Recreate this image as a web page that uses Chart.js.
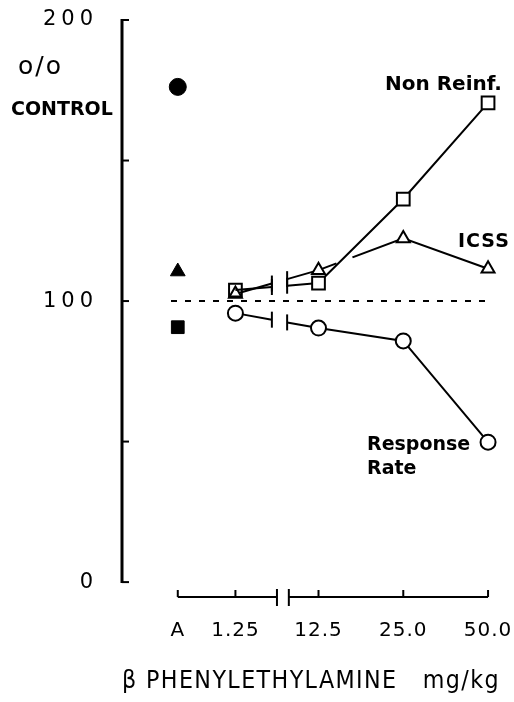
<!DOCTYPE html>
<html><head><meta charset="utf-8">
<script src="https://cdn.jsdelivr.net/npm/chart.js@4.4.0/dist/chart.umd.min.js"></script>
<style>html,body{margin:0;padding:0;background:#fff;}canvas{display:block}</style>
</head><body>
<canvas id="c" width="514" height="702"></canvas>
<script>
// ---- data ----
const doseLabels = ['A', '1.25', '12.5', '25.0', '50.0'];
const dosePositions = [-1.66, -0.98, 0, 1, 2];
const drugPositions = dosePositions.slice(1);
const controlValues = [176.2, 110.5, 90.7];          // filled circle, triangle, square at A
const controlStyles = ['circle', 'triangle', 'rect'];
const nonReinf = [103.9, 106.4, 136.3, 170.5];
const icss = [102.5, 111, 122.3, 111.5];
const responseRate = [95.7, 90.4, 85.8, 49.8];
const yTickValues = [0, 50, 100, 150, 200];
const yTickLabels = ['0', '', '100', '', '200'];
const baselineValue = 100;
const baselineSpan = [-1.74, 1.99];
const lineBreak = [-0.55, -0.37];
const axisBreak = [-0.49, -0.35];

const pts = (xs, ys) => xs.map((x, i) => ({x: x, y: ys[i]}));

function breakDash(ctx) {
  if (ctx.p0DataIndex !== 0) return undefined;
  const xs = ctx.chart.scales.x;
  const p0 = ctx.p0, p1 = ctx.p1;
  const dx = p1.x - p0.x, dy = p1.y - p0.y;
  const len = Math.hypot(dx, dy);
  const a = (xs.getPixelForValue(lineBreak[0]) - p0.x) / dx * len;
  const b = (xs.getPixelForValue(lineBreak[1]) - p0.x) / dx * len;
  return [a, b - a, len + 10];
}

const seriesCommon = {
  borderColor: '#000', borderWidth: 2, pointBorderColor: '#000', pointBorderWidth: 2,
  pointBackgroundColor: '#fff', tension: 0, segment: { borderDash: breakDash }
};

function wrapSpacing(scale, method, spacing) {
  const key = '_ls_' + method;
  if (scale[key]) return;
  const orig = scale[method];
  scale[method] = function () {
    const c = this.ctx; c.save(); c.letterSpacing = spacing;
    orig.apply(this, arguments); c.restore();
  };
  scale[key] = true;
}

const axesPlugin = {
  id: 'axesPlugin',
  afterLayout(chart) {
    wrapSpacing(chart.scales.y, 'drawLabels', '5px');
    wrapSpacing(chart.scales.x, 'drawLabels', '1px');
    wrapSpacing(chart.scales.x, 'drawTitle', '1.5px');
  },
  beforeDatasetsDraw(chart) {
    const ctx = chart.ctx, xs = chart.scales.x, ys = chart.scales.y;
    ctx.save();
    ctx.strokeStyle = '#000';
    ctx.lineCap = 'butt';
    // y axis
    const ax = chart.chartArea.left;
    ctx.lineWidth = 3;
    ctx.beginPath();
    ctx.moveTo(ax, ys.getPixelForValue(200) - 1);
    ctx.lineTo(ax, ys.getPixelForValue(0) + 1);
    ctx.stroke();
    ctx.lineWidth = 2;
    yTickValues.forEach(v => {
      const py = ys.getPixelForValue(v);
      ctx.beginPath(); ctx.moveTo(ax, py); ctx.lineTo(ax + 7, py); ctx.stroke();
    });
    // x axis with break
    const by = chart.chartArea.bottom;
    const xA = xs.getPixelForValue(dosePositions[0]);
    const xb1 = xs.getPixelForValue(axisBreak[0]);
    const xb2 = xs.getPixelForValue(axisBreak[1]);
    const xEnd = xs.getPixelForValue(dosePositions[dosePositions.length - 1]);
    ctx.lineWidth = 2;
    ctx.beginPath(); ctx.moveTo(xA, by); ctx.lineTo(xb1, by); ctx.stroke();
    ctx.beginPath(); ctx.moveTo(xb2, by); ctx.lineTo(xEnd, by); ctx.stroke();
    [xb1, xb2].forEach(px => { ctx.beginPath(); ctx.moveTo(px, by - 8); ctx.lineTo(px, by + 9); ctx.stroke(); });
    dosePositions.forEach(v => {
      const px = xs.getPixelForValue(v);
      ctx.beginPath(); ctx.moveTo(px, by); ctx.lineTo(px, by - 7); ctx.stroke();
    });
    ctx.restore();
  },
  afterDatasetDraw(chart, args) {
    // gap in the ICSS line where the Non Reinf. line crosses it
    if (args.index !== 1) return;
    const a = chart.getDatasetMeta(0).data, b = chart.getDatasetMeta(1).data;
    const p1 = a[1], p2 = a[2], q1 = b[1], q2 = b[2];
    const ma = (p2.y - p1.y) / (p2.x - p1.x), mb = (q2.y - q1.y) / (q2.x - q1.x);
    const ix = (q1.y - p1.y + ma * p1.x - mb * q1.x) / (ma - mb);
    const ctx = chart.ctx;
    ctx.save();
    ctx.strokeStyle = '#fff'; ctx.lineWidth = 5;
    ctx.beginPath();
    ctx.moveTo(ix - 3, q1.y + mb * (ix - 3 - q1.x));
    ctx.lineTo(ix + 13, q1.y + mb * (ix + 13 - q1.x));
    ctx.stroke();
    ctx.restore();
  },
  afterDatasetsDraw(chart) {
    const ctx = chart.ctx, xs = chart.scales.x;
    ctx.save();
    ctx.strokeStyle = '#000'; ctx.lineWidth = 2;
    [0, 1, 2].forEach(i => {
      const d = chart.getDatasetMeta(i).data;
      const p0 = d[0], p1 = d[1];
      lineBreak.forEach(bx => {
        const px = xs.getPixelForValue(bx);
        const py = p0.y + (p1.y - p0.y) * (px - p0.x) / (p1.x - p0.x);
        ctx.beginPath(); ctx.moveTo(px, py - 8); ctx.lineTo(px, py + 8); ctx.stroke();
      });
    });
    ctx.restore();
  },
  afterDraw(chart) {
    const ctx = chart.ctx;
    ctx.save();
    ctx.fillStyle = '#000';
    ctx.textBaseline = 'alphabetic';
    ctx.textAlign = 'left';
    ctx.letterSpacing = '2px';
    ctx.font = '25px "DejaVu Sans"';
    ctx.fillText('o/o', 18, 74);
    ctx.letterSpacing = '0px';
    ctx.font = 'bold 19px "DejaVu Sans"';
    ctx.fillText('CONTROL', 11, 115);
    ctx.font = 'bold 20px "DejaVu Sans"';
    ctx.fillText('Non Reinf.', 385, 90);
    ctx.font = 'bold 19px "DejaVu Sans"';
    ctx.letterSpacing = '1px';
    ctx.fillText('ICSS', 458, 247);
    ctx.letterSpacing = '0px';
    ctx.fillText('Response', 367, 450);
    ctx.fillText('Rate', 367, 474);
    ctx.restore();
  }
};

new Chart(document.getElementById('c'), {
  type: 'line',
  data: {
    datasets: [
      Object.assign({}, seriesCommon, {
        label: 'Non Reinf.', data: pts(drugPositions, nonReinf), order: 0,
        pointStyle: 'rect', pointRadius: 9,
        pointBackgroundColor: ['rgba(255,255,255,0)', '#fff', '#fff', '#fff']
      }),
      Object.assign({}, seriesCommon, {
        label: 'ICSS', data: pts(drugPositions, icss), order: 1,
        pointStyle: 'triangle', pointRadius: 7.5
      }),
      Object.assign({}, seriesCommon, {
        label: 'Response Rate', data: pts(drugPositions, responseRate), order: 2,
        pointStyle: 'circle', pointRadius: 7.5
      }),
      {
        label: 'Control', data: pts(controlValues.map(() => dosePositions[0]), controlValues), order: 3,
        showLine: false, pointStyle: controlStyles, pointRadius: [8.5, 8.5, 9],
        pointBackgroundColor: '#000', pointBorderColor: '#000', pointBorderWidth: 1
      },
      {
        label: 'baseline', data: pts(baselineSpan, [baselineValue, baselineValue]), order: 4,
        borderColor: '#000', borderWidth: 2, borderDash: [6, 8], pointRadius: 0
      }
    ]
  },
  options: {
    responsive: false,
    animation: false,
    events: [],
    layout: { padding: { top: 20, right: 14, bottom: 0, left: 0 } },
    plugins: { legend: { display: false }, tooltip: { enabled: false }, title: { display: false } },
    scales: {
      x: {
        type: 'linear', min: -2.318, max: 2.141,
        afterBuildTicks: s => { s.ticks = dosePositions.map(v => ({ value: v })); },
        afterFit: s => { s.height = 105; s.paddingLeft = 0; s.paddingRight = 0; },
        grid: { display: false, drawTicks: false },
        border: { display: false },
        ticks: {
          autoSkip: false, maxRotation: 0, minRotation: 0,
          callback: (v, i) => doseLabels[i],
          padding: 22, color: '#000',
          font: { family: 'DejaVu Sans', size: 20 }
        },
        title: {
          display: true, text: 'β PHENYLETHYLAMINE   mg/kg', color: '#000',
          font: { family: 'DejaVu Sans', size: 24 },
          padding: { top: 0, bottom: 6 }
        }
      },
      y: {
        type: 'linear', min: -5.3, max: 200,
        afterBuildTicks: s => { s.ticks = yTickValues.map(v => ({ value: v })); },
        afterFit: s => { s.width = 122; s.paddingTop = 0; s.paddingBottom = 0; },
        grid: { display: false, drawTicks: false },
        border: { display: false },
        ticks: {
          autoSkip: false,
          callback: (v, i) => yTickLabels[i],
          padding: 24, color: '#000',
          font: { family: 'DejaVu Sans', size: 21 }
        }
      }
    }
  },
  plugins: [axesPlugin]
});
</script>
</body></html>
